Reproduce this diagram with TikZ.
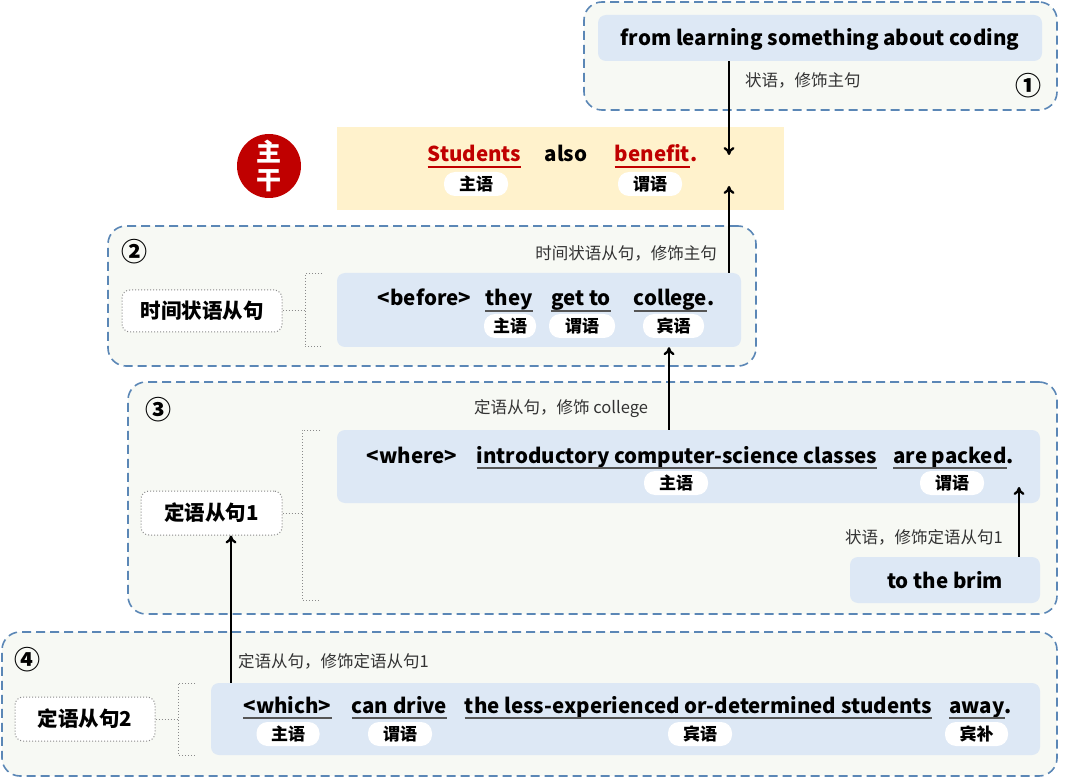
\documentclass[tikz,border=0pt]{standalone}
\usepackage{fontspec}
\setmainfont{Noto Sans CJK SC}
\usetikzlibrary{arrows.meta}
\definecolor{dashblue}{HTML}{5B87B6}
\definecolor{outerfill}{HTML}{F7F9F4}
\definecolor{innerblue}{HTML}{DDE8F5}
\definecolor{yellowbg}{HTML}{FFF2CC}
\definecolor{darkred}{HTML}{C00000}
\definecolor{labgrey}{HTML}{333333}
\definecolor{ulgrey}{HTML}{555555}
\definecolor{dotgrey}{HTML}{8A8A8A}
\tikzset{
  outerbox/.style={draw=dashblue, line width=1.6pt, dash pattern=on 9pt off 5pt, fill=outerfill, rounded corners=18pt, inner sep=0},
  innerbox/.style={fill=innerblue, rounded corners=8pt, inner sep=0},
  labbox/.style={draw=dotgrey, line width=1pt, dotted, fill=white, rounded corners=8pt, inner sep=0, font=\fontsize{20.5}{24}\selectfont\bfseries},
  word/.style={anchor=base, inner sep=0, font=\fontsize{20.5}{24}\selectfont\bfseries},
  pill/.style={fill=white, rounded corners=11pt, minimum height=24pt, inner sep=0, font=\fontsize{17}{19}\selectfont\bfseries},
  note/.style={font=\fontsize{16.5}{19}\selectfont, text=labgrey, inner sep=0},
  num/.style={font=\fontsize{26}{28}\selectfont\bfseries, inner sep=0},
  uline/.style={draw=ulgrey, line width=1.6pt},
  rline/.style={draw=darkred, line width=1.6pt},
  arr/.style={draw=black, line width=2.3pt, -{To[length=8pt,width=11pt]}},
  dotline/.style={draw=dotgrey, line width=1pt, dotted},
}
\newcommand{\ulw}[1]{\draw[uline] ([yshift=-5pt]#1.base west) -- ([yshift=-5pt]#1.base east);}
\begin{document}
\begin{tikzpicture}[x=1pt,y=-1pt]
\useasboundingbox (0,0) rectangle (1080,778);
% ---------- box 1
\node[outerbox, minimum width=473pt, minimum height=108pt] (outer1) at (820.5,56) {};
\node[innerbox, minimum width=444pt, minimum height=46pt] (inner1) at (820,38) {};
\node[word] (w1) at (820,46) {from learning something about coding};
\node[note, anchor=west] (n1) at (745,80) {状语，修饰主句};
\node[num] (c1) at (1028,86) {①};
% ---------- main
\node[fill=yellowbg, inner sep=0, minimum width=447pt, minimum height=83pt] (main) at (560.5,168.5) {};
\node[circle, fill=darkred, minimum size=64pt, inner sep=0, text=white, align=center, font=\fontsize{25}{28}\selectfont\bfseries] (zg) at (269,166) {主\\干};
\node[word, text=darkred] (m1) at (474.5,162) {Students};
\node[word] (m2) at (566,162) {also};
\node[word, text=darkred] (m3) at (652.5,162) {benefit\rlap{.}};
\draw[rline] ([yshift=-5pt]m1.base west) -- ([yshift=-5pt]m1.base east);
\draw[rline] ([yshift=-5pt]m3.base west) -- ([yshift=-5pt]m3.base east);
\node[pill, minimum width=64pt] (mp1) at (476,184) {主语};
\node[pill, minimum width=64pt] (mp2) at (650,184) {谓语};
% ---------- box 2
\node[outerbox, minimum width=648pt, minimum height=140pt] (outer2) at (432,296) {};
\node[innerbox, minimum width=404pt, minimum height=74pt] (inner2) at (539,310) {};
\node[num] (c2) at (134,252) {②};
\node[note, anchor=east] (n2) at (717,253) {时间状语从句，修饰主句};
\node[labbox, minimum width=160pt, minimum height=42pt] (lab2) at (202,311) {时间状语从句};
\node[word] (b0) at (424.5,306) {<before>};
\node[word] (b1) at (509,306) {they};
\node[word] (b2) at (581,306) {get to};
\node[word] (b3) at (670.5,306) {college\rlap{.}};
\ulw{b1}\ulw{b2}\ulw{b3}
\node[pill, minimum width=52pt] (bp1) at (510,326) {主语};
\node[pill, minimum width=66pt] (bp2) at (582,326) {谓语};
\node[pill, minimum width=61pt] (bp3) at (673.5,326) {宾语};
\coordinate (br2) at (305,0);
\draw[dotline] (lab2.east) -- (lab2.east -| br2);
\draw[dotline] (322,274) -| (br2 |- 0,347) -- (322,347);
% ---------- box 3
\node[outerbox, minimum width=929pt, minimum height=232pt] (outer3) at (592.5,498) {};
\node[innerbox, minimum width=703pt, minimum height=73pt] (inner3) at (688.5,466.5) {};
\node[innerbox, minimum width=190pt, minimum height=46pt] (brim) at (945,580) {};
\node[word] (t0) at (945,588) {to the brim};
\node[num] (c3) at (158,410) {③};
\node[note, anchor=west] (n3) at (474,409) {定语从句，修饰 college};
\node[note, anchor=east] (n3b) at (1003,537) {状语，修饰定语从句1};
\node[labbox, minimum width=141pt, minimum height=44pt] (lab3) at (211.5,513) {定语从句1};
\node[word] (r0) at (412,463) {<where>};
\node[word] (r1) at (677,463) {introductory computer-science classes};
\node[word] (r2) at (950,463) {are packed\rlap{.}};
\ulw{r1}\ulw{r2}
\node[pill, minimum width=64pt] (rp1) at (676,483) {主语};
\node[pill, minimum width=64pt] (rp2) at (952,483) {谓语};
\coordinate (br3) at (302,0);
\draw[dotline] (lab3.east) -- (lab3.east -| br3);
\draw[dotline] (320,430) -| (br3 |- 0,600) -- (320,600);
% ---------- box 4
\node[outerbox, minimum width=1055pt, minimum height=144pt] (outer4) at (529.5,704) {};
\node[innerbox, minimum width=829pt, minimum height=72pt] (inner4) at (625.5,719) {};
\node[num] (c4) at (28,660) {④};
\node[note, anchor=west] (n4) at (238,661) {定语从句，修饰定语从句1};
\node[labbox, minimum width=140pt, minimum height=44pt] (lab4) at (85,719) {定语从句2};
\node[word] (h0) at (287.5,713) {<which>};
\node[word] (h1) at (399.5,713) {can drive};
\node[word] (h2) at (698.5,713) {the less-experienced or-determined students};
\node[word] (h3) at (977,713) {away\rlap{.}};
\ulw{h0}\ulw{h1}\ulw{h2}\ulw{h3}
\node[pill, minimum width=63pt] (hp1) at (288,734) {主语};
\node[pill, minimum width=64pt] (hp2) at (400,734) {谓语};
\node[pill, minimum width=64pt] (hp3) at (700,734) {宾语};
\node[pill, minimum width=63pt] (hp4) at (976.5,734) {宾补};
\coordinate (br4) at (178,0);
\draw[dotline] (lab4.east) -- (lab4.east -| br4);
\draw[dotline] (195,683) -| (br4 |- 0,755) -- (195,755);
% ---------- arrows
\coordinate (a1) at (729,155);
\coordinate (a2) at (729,186);
\coordinate (a3) at (669,0);
\coordinate (a4) at (1019,487);
\coordinate (a5) at (231,0);
\draw[arr] (inner1.south -| a1) -- (a1);
\draw[arr] (inner2.north -| a2) -- (a2);
\draw[arr] (inner3.north -| a3) -- (inner2.south -| a3);
\draw[arr] (brim.north -| a4) -- (a4);
\draw[arr] (inner4.north -| a5) -- (lab3.south -| a5);
\end{tikzpicture}
\end{document}
